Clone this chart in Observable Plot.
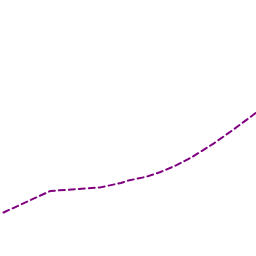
<!DOCTYPE html>
<html>
<head>
<meta charset="utf-8">
<script src="https://cdn.jsdelivr.net/npm/d3@7"></script>
<script src="https://cdn.jsdelivr.net/npm/@observablehq/plot@0.6"></script>
<style>
html,body{margin:0;padding:0;background:#fff;}
</style>
</head>
<body>
<div id="chart"></div>
<script>
const xs = [0.12, 1.95, 3.9, 4.7, 5.0, 5.66, 6.25, 6.84, 7.46, 8.32, 9.1, 10];
const ys = [17.2, 25.6, 27.0, 28.7, 29.7, 31.05, 33.0, 35.5, 38.7, 44.1, 49.6, 56.25];
const data = xs.map((x, i) => ({x, y: ys[i]}));
const chart = Plot.plot({
  width: 256,
  height: 256,
  margin: 0,
  x: {domain: [0, 10], axis: null},
  y: {domain: [0, 100], axis: null},
  marks: [
    Plot.line(data, {x: "x", y: "y", stroke: "purple", strokeWidth: 2, strokeDasharray: "6 4"})
  ]
});
document.getElementById("chart").appendChild(chart);
</script>
</body>
</html>
